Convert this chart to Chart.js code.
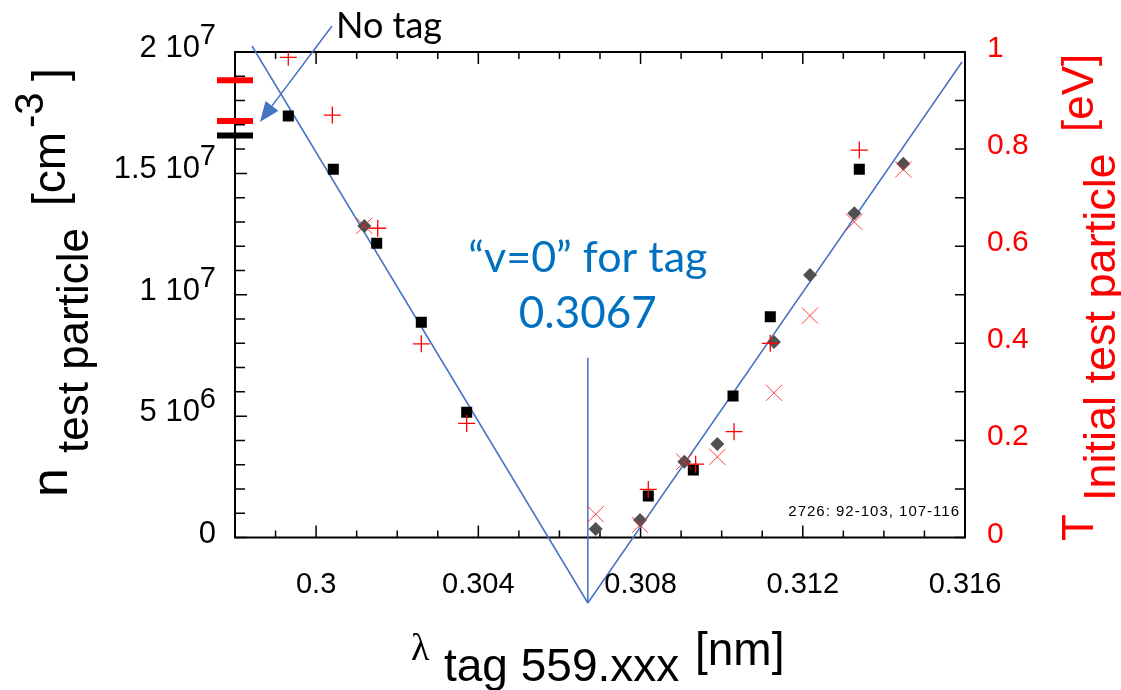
<!DOCTYPE html>
<html>
<head>
<meta charset="utf-8">
<script src="https://cdn.jsdelivr.net/npm/chart.js@4.4.1/dist/chart.umd.min.js"></script>
<style>
  html, body { margin: 0; padding: 0; background: #fff; }
  #wrap { width: 1121px; height: 690px; }
</style>
</head>
<body>
<div id="wrap"><canvas id="tagChart" width="1121" height="690"></canvas></div>
<script>
// tag wavelength (nm past 559) vs test particle density / initial temperature

// black squares: density
const squareLambda = [0.299314, 0.300424, 0.301494, 0.302594, 0.303713, 0.308191, 0.309301, 0.310280, 0.311199, 0.313394];
const squareDensity = [1.736e7, 1.517e7, 1.212e7, 8.865e6, 5.158e6, 1.710e6, 2.781e6, 5.829e6, 9.096e6, 1.517e7];

// grey diamonds (density) and red x marks (temperature) share the same scan points
const scanLambda = [0.301188, 0.306894, 0.307987, 0.309079, 0.309893, 0.311291, 0.312178, 0.313271, 0.314479];
const diamondDensity = [1.283e7, 3.50e5, 7.21e5, 3.123e6, 3.852e6, 8.054e6, 1.0814e7, 1.3355e7, 1.5399e7];
const xMarkTemp = [0.642, 0.048, 0.026, 0.156, 0.166, 0.298, 0.457, 0.650, 0.758];

// red plus marks: temperature
const plusLambda = [0.299314, 0.300400, 0.301519, 0.302594, 0.303713, 0.308191, 0.309358, 0.310305, 0.311199, 0.313394];
const plusTemp = [0.989, 0.870, 0.637, 0.399, 0.235, 0.099, 0.151, 0.218, 0.400, 0.798];

// untagged reference values, drawn on the left edge
const noTagLambda = 0.298;
const noTagTemp = [0.942, 0.858];
const noTagDensity = [1.656e7];

// the two linear fits meet at the zero-velocity wavelength
const zeroLambda = 0.3067;
const fitLeftLambda = [0.298419, zeroLambda];
const fitLeftDensity = [2.0247e7, -2.698e6];
const fitRightLambda = [zeroLambda, 0.315926];
const fitRightDensity = [-2.698e6, 1.9588e7];
const zeroMarkDensity = [7.407e6, -2.698e6];

// "No tag" arrow, tail then tip
const arrowLambda = [0.300392, 0.298616];
const arrowDensity = [2.107e7, 1.712e7];

// axes
const xTickValues = [0.3, 0.304, 0.308, 0.312, 0.316];
const xTickLabels = ['0.3', '0.304', '0.308', '0.312', '0.316'];
const yTickValues = [0, 5e6, 1e7, 1.5e7, 2e7];
const yTickMantissa = ['0', '5 10', '1 10', '1.5 10', '2 10'];
const yTickExponent = ['', '6', '7', '7', '7'];
const tTickValues = [0, 0.2, 0.4, 0.6, 0.8, 1];
const tTickLabels = ['0', '0.2', '0.4', '0.6', '0.8', '1'];

const BLUE = '#4472C4';
const RED = '#ff0000';
const SANS = '"Liberation Sans", Arial, sans-serif';

function pts(xs, ys) {
  return xs.map((x, i) => ({ x: x, y: ys[i] }));
}

function vtext(ctx, str, x, y, font, color) {
  ctx.save();
  ctx.translate(x, y);
  ctx.rotate(-Math.PI / 2);
  ctx.font = font;
  ctx.fillStyle = color;
  ctx.textAlign = 'left';
  ctx.textBaseline = 'alphabetic';
  ctx.fillText(str, 0, 0);
  ctx.restore();
}

const frame = {
  id: 'frame',
  beforeDatasetsDraw(chart) {
    const ctx = chart.ctx;
    const a = chart.chartArea;
    const xs = chart.scales.x, ys = chart.scales.y, ts = chart.scales.y1;
    ctx.save();
    ctx.strokeStyle = '#000';
    ctx.lineWidth = 1.5;
    ctx.beginPath();
    // wavelength ticks every 0.001, top and bottom
    for (let i = 298; i <= 316; i++) {
      const px = xs.getPixelForValue(i / 1000);
      const len = (i - 300) % 4 === 0 ? 12 : 7;
      ctx.moveTo(px, a.bottom); ctx.lineTo(px, a.bottom - len);
      ctx.moveTo(px, a.top); ctx.lineTo(px, a.top + len);
    }
    // density ticks every 1e6
    for (let i = 0; i <= 20; i++) {
      const py = ys.getPixelForValue(i * 1e6);
      const len = i % 5 === 0 ? 12 : 10;
      ctx.moveTo(a.left, py); ctx.lineTo(a.left + len, py);
    }
    // temperature ticks every 0.1
    for (let i = 0; i <= 10; i++) {
      const py = ts.getPixelForValue(i / 10);
      ctx.moveTo(a.right, py); ctx.lineTo(a.right - 10, py);
    }
    ctx.stroke();
    ctx.lineWidth = 2;
    ctx.strokeRect(a.left, a.top, a.right - a.left, a.bottom - a.top);
    ctx.restore();
  },
  afterDatasetsDraw(chart) {
    const ctx = chart.ctx;
    const a = chart.chartArea;
    const xs = chart.scales.x, ys = chart.scales.y, ts = chart.scales.y1;
    ctx.save();

    // tick labels
    ctx.font = '29px ' + SANS;
    ctx.fillStyle = '#000';
    ctx.textBaseline = 'alphabetic';
    ctx.textAlign = 'center';
    xTickValues.forEach((v, i) => ctx.fillText(xTickLabels[i], xs.getPixelForValue(v), 593));

    ctx.textAlign = 'right';
    yTickValues.forEach((v, i) => {
      const py = ys.getPixelForValue(v) + 5;
      let right = a.left - 19;
      if (yTickExponent[i]) {
        ctx.font = '29px ' + SANS;
        ctx.fillText(yTickExponent[i], right, py - 13);
        right -= ctx.measureText(yTickExponent[i]).width;
      }
      ctx.font = '31px ' + SANS;
      ctx.fillText(yTickMantissa[i], right, py);
    });

    ctx.textAlign = 'left';
    ctx.fillStyle = RED;
    ctx.font = '30px ' + SANS;
    tTickValues.forEach((v, i) => ctx.fillText(tTickLabels[i], a.right + 22, ts.getPixelForValue(v) + 5));

    // axis titles
    vtext(ctx, 'n', 67, 497, '52px ' + SANS, '#000');
    vtext(ctx, 'test particle', 88, 453, '44px ' + SANS, '#000');
    vtext(ctx, '[cm', 65, 206, '46px ' + SANS, '#000');
    vtext(ctx, '-3', 43, 128, '40px ' + SANS, '#000');
    vtext(ctx, ']', 65, 81, '46px ' + SANS, '#000');

    vtext(ctx, 'T', 1093, 541, '44px ' + SANS, RED);
    vtext(ctx, 'Initial test particle', 1115, 501, '45px ' + SANS, RED);
    vtext(ctx, '[eV]', 1093, 132, '44px ' + SANS, RED);

    ctx.fillStyle = '#000';
    ctx.textAlign = 'left';
    ctx.font = '38px "Liberation Serif", serif';
    ctx.fillText('\u03bb', 411, 660);
    ctx.font = '46px ' + SANS;
    ctx.fillText('tag 559.xxx', 444, 681);
    ctx.font = '46px ' + SANS;
    ctx.fillText('[nm]', 695, 665);

    // annotations
    ctx.font = '36px Lato, sans-serif';
    ctx.fillText('No tag', 336, 38);

    ctx.fillStyle = '#0070C0';
    ctx.textAlign = 'center';
    const zx = xs.getPixelForValue(zeroLambda);
    ctx.font = '43px Lato, sans-serif';
    ctx.fillText('\u201cv=0\u201d for tag', zx, 272);
    ctx.font = '44px Lato, sans-serif';
    ctx.fillText(String(zeroLambda), zx, 328);

    ctx.fillStyle = '#000';
    ctx.textAlign = 'right';
    ctx.font = '15px ' + SANS;
    ctx.letterSpacing = '1px';
    ctx.fillText('2726: 92-103, 107-116', a.right - 5, 516);
    ctx.letterSpacing = '0px';

    // arrow pointing at the untagged values
    const x0 = xs.getPixelForValue(arrowLambda[0]), y0 = ys.getPixelForValue(arrowDensity[0]);
    const x1 = xs.getPixelForValue(arrowLambda[1]), y1 = ys.getPixelForValue(arrowDensity[1]);
    const ang = Math.atan2(y1 - y0, x1 - x0);
    const hl = 20, hw = 8;
    const bx = x1 - hl * Math.cos(ang), by = y1 - hl * Math.sin(ang);
    ctx.strokeStyle = BLUE;
    ctx.fillStyle = BLUE;
    ctx.lineWidth = 1.5;
    ctx.beginPath();
    ctx.moveTo(x0, y0);
    ctx.lineTo(bx, by);
    ctx.stroke();
    ctx.beginPath();
    ctx.moveTo(x1, y1);
    ctx.lineTo(bx + hw * Math.sin(ang), by - hw * Math.cos(ang));
    ctx.lineTo(bx - hw * Math.sin(ang), by + hw * Math.cos(ang));
    ctx.closePath();
    ctx.fill();

    ctx.restore();
  }
};

function fitLine(data) {
  return {
    data: data, showLine: true, borderColor: BLUE, borderWidth: 1.5,
    pointRadius: 0, clip: false, yAxisID: 'y', order: 10
  };
}

const ctx = document.getElementById('tagChart').getContext('2d');
const chart = new Chart(ctx, {
  type: 'scatter',
  data: {
    datasets: [
      fitLine(pts(fitLeftLambda, fitLeftDensity)),
      fitLine(pts(fitRightLambda, fitRightDensity)),
      fitLine(pts([zeroLambda, zeroLambda], zeroMarkDensity)),
      {
        data: pts(squareLambda, squareDensity), yAxisID: 'y', order: 6,
        pointStyle: 'rect', pointRadius: 7.8,
        pointBackgroundColor: '#000', pointBorderColor: '#000', pointBorderWidth: 0
      },
      {
        data: pts(scanLambda, diamondDensity), yAxisID: 'y', order: 5,
        pointStyle: 'rectRot', pointRadius: 7,
        pointBackgroundColor: '#505050', pointBorderColor: '#505050', pointBorderWidth: 0
      },
      {
        data: pts(plusLambda, plusTemp), yAxisID: 'y1', order: 4,
        pointStyle: 'cross', pointRadius: 8.5,
        pointBorderColor: RED, pointBorderWidth: 1.3
      },
      {
        data: pts(scanLambda, xMarkTemp), yAxisID: 'y1', order: 3,
        pointStyle: 'crossRot', pointRadius: 11.5,
        pointBorderColor: 'rgba(255,30,30,0.85)', pointBorderWidth: 1
      },
      {
        data: pts([noTagLambda, noTagLambda], noTagTemp), yAxisID: 'y1', order: 2, clip: false,
        pointStyle: 'line', pointRadius: 18, pointBorderColor: RED, pointBorderWidth: 6
      },
      {
        data: pts([noTagLambda], noTagDensity), yAxisID: 'y', order: 1, clip: false,
        pointStyle: 'line', pointRadius: 18, pointBorderColor: '#000', pointBorderWidth: 6
      }
    ]
  },
  options: {
    responsive: false,
    animation: false,
    events: [],
    layout: { padding: { left: 235, right: 156, top: 52, bottom: 152.5 } },
    plugins: { legend: { display: false }, tooltip: { enabled: false } },
    scales: {
      x: { type: 'linear', min: 0.298, max: 0.316, display: false },
      y: { type: 'linear', min: 0, max: 2e7, display: false },
      y1: { type: 'linear', position: 'right', min: 0, max: 1, display: false }
    }
  },
  plugins: [frame]
});
</script>
</body>
</html>
